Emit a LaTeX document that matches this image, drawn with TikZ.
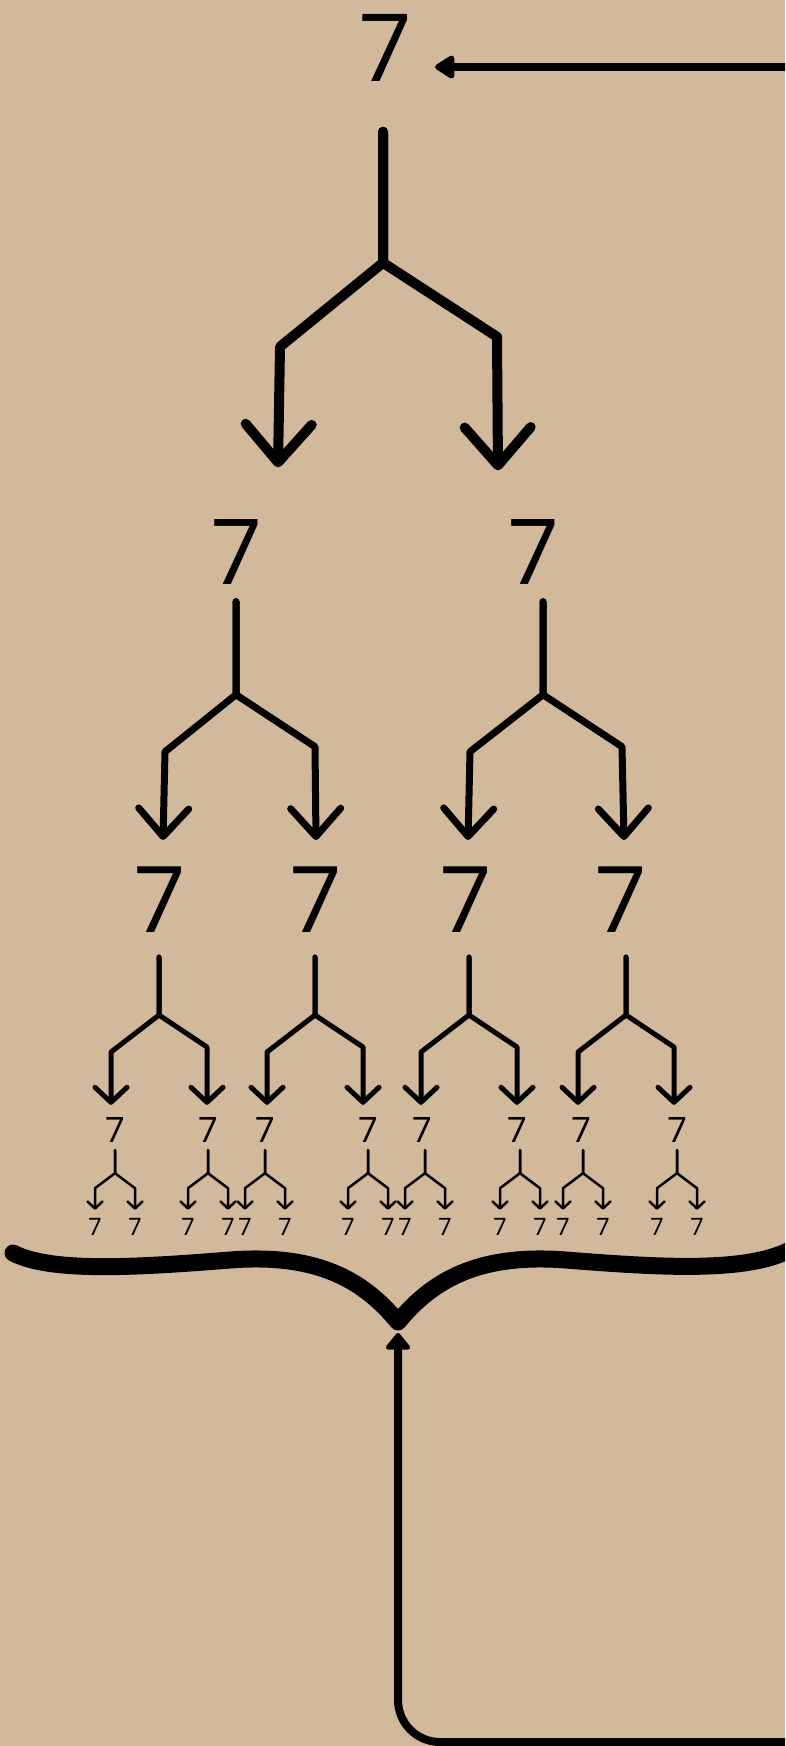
\documentclass[tikz,border=0pt]{standalone}
\usepackage{fontspec}
\usepackage{tikz}
\usetikzlibrary{arrows.meta}
\newfontfamily\digitfont{Open Sans}
\definecolor{paper}{RGB}{211,185,155}

\begin{document}
\begin{tikzpicture}[x=1pt, y=-1pt, line cap=round, line join=round,
  seven/.style={inner sep=0pt, text=black},
  sevenA/.style={seven, font=\digitfont\fontsize{94}{94}\selectfont},
  sevenB/.style={seven, font=\digitfont\fontsize{91}{91}\selectfont},
  sevenC/.style={seven, font=\digitfont\fontsize{92}{92}\selectfont},
  sevenD/.style={seven, font=\digitfont\fontsize{35}{35}\selectfont},
  sevenE/.style={seven, font=\digitfont\fontsize{24}{24}\selectfont},
  forkA/.style={line width=10pt, -{Straight Barb[round, length=38pt, width=66pt]}},
  forkB/.style={line width=7pt, -{Straight Barb[round, length=28pt, width=50pt]}},
  forkC/.style={line width=5pt, -{Straight Barb[round, length=15pt, width=32pt]}},
  forkD/.style={line width=2.5pt, -{Straight Barb[round, length=7pt, width=15pt]}},
  feedback/.style={line width=8pt},
  brace/.style={line width=17pt}]
\useasboundingbox (0,0) rectangle (785,1746);
\clip (0,0) rectangle (785,1746);
\fill[paper] (0,0) rectangle (785,1746);
% the sevens
\node[sevenA] (t0) at (385,48) {7};
\node[sevenB] (t1a) at (237,552) {7};
\node[sevenB] (t1b) at (534,552) {7};
\node[sevenC] (t2a) at (160,900) {7};
\node[sevenC] (t2b) at (316,900) {7};
\node[sevenC] (t2c) at (466,900) {7};
\node[sevenC] (t2d) at (621,900) {7};
\node[sevenD] (t3a) at (115,1130) {7};
\node[sevenD] (t3b) at (208,1130) {7};
\node[sevenD] (t3c) at (265,1130) {7};
\node[sevenD] (t3d) at (368,1130) {7};
\node[sevenD] (t3e) at (422,1130) {7};
\node[sevenD] (t3f) at (517,1130) {7};
\node[sevenD] (t3g) at (581,1130) {7};
\node[sevenD] (t3h) at (677,1130) {7};
\node[sevenE] (t4a) at (95,1227) {7};
\node[sevenE] (t4b) at (135,1227) {7};
\node[sevenE] (t4c) at (188,1227) {7};
\node[sevenE] (t4d) at (228,1227) {7};
\node[sevenE] (t4e) at (245,1227) {7};
\node[sevenE] (t4f) at (285,1227) {7};
\node[sevenE] (t4g) at (348,1227) {7};
\node[sevenE] (t4h) at (388,1227) {7};
\node[sevenE] (t4i) at (405,1227) {7};
\node[sevenE] (t4j) at (445,1227) {7};
\node[sevenE] (t4k) at (500,1227) {7};
\node[sevenE] (t4l) at (540,1227) {7};
\node[sevenE] (t4m) at (563,1227) {7};
\node[sevenE] (t4n) at (603,1227) {7};
\node[sevenE] (t4o) at (657,1227) {7};
\node[sevenE] (t4p) at (697,1227) {7};
% forks
\draw[forkA] ([xshift=-2pt,yshift=-50pt]t0.south) -- ++(0,131) -- ++(-103,84) -- ([xshift=41pt,yshift=52pt]t1a.north);
\draw[forkA] ([xshift=-2pt,yshift=-50pt]t0.south) -- ++(0,131) -- ++(114,74) -- ([xshift=-36pt,yshift=49pt]t1b.north);
\draw[forkB] ([xshift=-1pt,yshift=-17pt]t1a.south) -- ++(0,93) -- ++(-71,57) -- ([xshift=3pt,yshift=27pt]t2a.north);
\draw[forkB] ([xshift=-1pt,yshift=-17pt]t1a.south) -- ++(0,93) -- ++(79,52) -- ([yshift=27pt]t2b.north);
\draw[forkB] ([xshift=9pt,yshift=-17pt]t1b.south) -- ++(0,93) -- ++(-73,57) -- ([xshift=2pt,yshift=27pt]t2c.north);
\draw[forkB] ([xshift=9pt,yshift=-17pt]t1b.south) -- ++(0,93) -- ++(79,52) -- ([xshift=3pt,yshift=27pt]t2d.north);
\draw[forkC] ([xshift=-1pt,yshift=-24pt]t2a.south) -- ++(0,58) -- ++(-48,37) -- ([xshift=-4pt,yshift=12.5pt]t3a.north);
\draw[forkC] ([xshift=-1pt,yshift=-24pt]t2a.south) -- ++(0,58) -- ++(48,32) -- ([xshift=-1pt,yshift=12.5pt]t3b.north);
\draw[forkC] ([xshift=-1pt,yshift=-24pt]t2b.south) -- ++(0,58) -- ++(-48,37) -- ([xshift=2pt,yshift=12.5pt]t3c.north);
\draw[forkC] ([xshift=-1pt,yshift=-24pt]t2b.south) -- ++(0,58) -- ++(48,32) -- ([xshift=-5pt,yshift=12.5pt]t3d.north);
\draw[forkC] ([xshift=3pt,yshift=-24pt]t2c.south) -- ++(0,58) -- ++(-48,37) -- ([xshift=-1pt,yshift=12.5pt]t3e.north);
\draw[forkC] ([xshift=3pt,yshift=-24pt]t2c.south) -- ++(0,58) -- ++(48,32) -- ([yshift=12.5pt]t3f.north);
\draw[forkC] ([xshift=5pt,yshift=-24pt]t2d.south) -- ++(0,58) -- ++(-48,37) -- ([xshift=-3pt,yshift=12.5pt]t3g.north);
\draw[forkC] ([xshift=5pt,yshift=-24pt]t2d.south) -- ++(0,58) -- ++(48,32) -- ([xshift=-3pt,yshift=12.5pt]t3h.north);
\draw[forkD] ([yshift=-7.5pt]t3a.south) -- ++(0,23) -- ++(-20,15) -- ([yshift=8.5pt]t4a.north);
\draw[forkD] ([yshift=-7.5pt]t3a.south) -- ++(0,23) -- ++(20,15) -- ([yshift=8.5pt]t4b.north);
\draw[forkD] ([yshift=-7.5pt]t3b.south) -- ++(0,23) -- ++(-20,15) -- ([yshift=8.5pt]t4c.north);
\draw[forkD] ([yshift=-7.5pt]t3b.south) -- ++(0,23) -- ++(20,15) -- ([yshift=8.5pt]t4d.north);
\draw[forkD] ([yshift=-7.5pt]t3c.south) -- ++(0,23) -- ++(-20,15) -- ([yshift=8.5pt]t4e.north);
\draw[forkD] ([yshift=-7.5pt]t3c.south) -- ++(0,23) -- ++(20,15) -- ([yshift=8.5pt]t4f.north);
\draw[forkD] ([yshift=-7.5pt]t3d.south) -- ++(0,23) -- ++(-20,15) -- ([yshift=8.5pt]t4g.north);
\draw[forkD] ([yshift=-7.5pt]t3d.south) -- ++(0,23) -- ++(20,15) -- ([yshift=8.5pt]t4h.north);
\draw[forkD] ([xshift=3pt,yshift=-7.5pt]t3e.south) -- ++(0,23) -- ++(-20,15) -- ([yshift=8.5pt]t4i.north);
\draw[forkD] ([xshift=3pt,yshift=-7.5pt]t3e.south) -- ++(0,23) -- ++(20,15) -- ([yshift=8.5pt]t4j.north);
\draw[forkD] ([xshift=3pt,yshift=-7.5pt]t3f.south) -- ++(0,23) -- ++(-20,15) -- ([yshift=8.5pt]t4k.north);
\draw[forkD] ([xshift=3pt,yshift=-7.5pt]t3f.south) -- ++(0,23) -- ++(20,15) -- ([yshift=8.5pt]t4l.north);
\draw[forkD] ([xshift=2pt,yshift=-7.5pt]t3g.south) -- ++(0,23) -- ++(-20,15) -- ([yshift=8.5pt]t4m.north);
\draw[forkD] ([xshift=2pt,yshift=-7.5pt]t3g.south) -- ++(0,23) -- ++(20,15) -- ([yshift=8.5pt]t4n.north);
\draw[forkD] ([yshift=-7.5pt]t3h.south) -- ++(0,23) -- ++(-20,15) -- ([yshift=8.5pt]t4o.north);
\draw[forkD] ([yshift=-7.5pt]t3h.south) -- ++(0,23) -- ++(20,15) -- ([yshift=8.5pt]t4p.north);
% brace and feedback loop
\coordinate (bracetip) at (398,1333);
\coordinate (feedin) at (800,67);
\coordinate (feedout) at (800,1742);
\draw[brace] (13,1253) .. controls (50,1272) and (130,1268) .. (230,1260)
  .. controls (320,1253) and (365,1282) .. (398,1322)
  .. controls (431,1282) and (476,1253) .. (566,1260)
  .. controls (666,1268) and (746,1272) .. (790,1250);
\draw[feedback, -{Triangle[round, length=18pt, width=28pt]}, rounded corners=42pt] (feedout) -| (bracetip);
\draw[feedback, {Triangle[round, length=22pt, width=26pt]}-] ([xshift=23pt,yshift=-19pt]t0.east) -- (feedin);
\end{tikzpicture}
\end{document}
